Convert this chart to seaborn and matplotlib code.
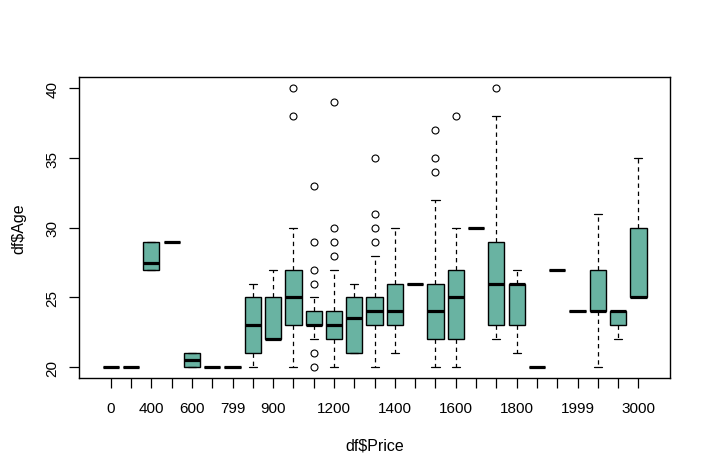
import pandas as pd
import matplotlib.pyplot as plt
import seaborn as sns

sns.set_style("white")
plt.rcParams['font.family'] = ['Liberation Sans', 'DejaVu Sans']

# price groups, in the order they appear on the x axis
prices = [0, 200, 400, 500, 600, 700, 799, 800, 900, 999, 1000, 1200, 1299, 1300,
          1400, 1499, 1500, 1600, 1699, 1700, 1800, 1899, 1900, 1999, 2000, 2500, 3000]

# ages observed in each price group
ages = [
    [20],
    [20],
    [27, 27, 27, 27, 28, 29, 29, 29],
    [29],
    [20, 20, 20, 20, 21, 21, 21, 21],
    [20],
    [20],
    [20, 21, 21, 22, 23, 24, 25, 25, 26],
    [22, 22, 22, 22, 22, 23, 25, 26, 27],
    [20, 22, 23, 23, 24, 25, 25, 26, 27, 27, 30, 38, 40],
    [20, 21, 22, 23, 23, 23, 23, 23, 23, 23, 23, 24, 24, 24, 24, 24, 25, 26, 27, 29, 33],
    [20, 21, 22, 22, 22, 22, 23, 23, 23, 23, 23, 24, 24, 24, 24, 24, 27, 28, 29, 30, 39],
    [21, 21, 21, 23, 24, 25, 25, 26],
    [20, 21, 22, 22, 23, 23, 23, 24, 24, 24, 24, 24, 25, 25, 25, 25, 28, 29, 30, 31, 35],
    [21, 22, 23, 23, 24, 25, 26, 28, 30],
    [26],
    [20, 21, 22, 22, 22, 23, 24, 24, 24, 25, 25, 26, 26, 32, 34, 35, 37],
    [20, 21, 22, 24, 25, 26, 27, 30, 38],
    [30],
    [22, 23, 23, 25, 26, 27, 29, 38, 40],
    [21, 22, 23, 25, 26, 26, 26, 27, 27],
    [20],
    [27],
    [24],
    [20, 22, 24, 24, 24, 25, 27, 29, 31],
    [22, 23, 23, 23, 24, 24, 24, 24, 24],
    [25, 25, 25, 25, 25, 28, 30, 33, 35],
]

# R only prints the labels that do not overlap
tick_labels = ['0', '', '400', '', '600', '', '799', '', '900', '', '', '1200', '', '',
               '1400', '', '', '1600', '', '', '1800', '', '', '1999', '', '', '3000']

df = pd.DataFrame({
    'Price': [str(p) for p, grp in zip(prices, ages) for _ in grp],
    'Age': [a for grp in ages for a in grp],
})

fig = plt.figure(figsize=(7.11, 4.77), dpi=100)
ax = fig.add_axes([0.1107, 0.2048, 0.8323, 0.631])

sns.boxplot(
    data=df, x='Price', y='Age', order=[str(p) for p in prices],
    color='#69b3a2', saturation=1, linecolor='black', linewidth=1,
    width=0.8, ax=ax,
    whiskerprops=dict(linestyle=(0, (3.5, 3)), linewidth=0.9),
    capprops=dict(linewidth=0.9),
    medianprops=dict(linewidth=2.3, color='black'),
    flierprops=dict(marker='o', markerfacecolor='none', markeredgecolor='black',
                    markersize=5, markeredgewidth=0.8),
)

ax.set_xlim(-1.58, 27.58)
ax.set_ylim(19.2, 40.8)
ax.set_yticks([20, 25, 30, 35, 40])
ax.set_xticks(range(len(prices)))
ax.set_xticklabels(tick_labels)

for side in ['left', 'right', 'top', 'bottom']:
    ax.spines[side].set_visible(True)
    ax.spines[side].set_color('black')
    ax.spines[side].set_linewidth(1)

ax.tick_params(axis='both', direction='out', length=7, width=0.9, color='black',
               labelsize=11, labelcolor='black', bottom=True, left=True)
ax.tick_params(axis='x', pad=9)
ax.tick_params(axis='y', pad=7)
for lab in ax.get_yticklabels():
    lab.set_rotation(90)
    lab.set_va('center')

ax.set_xlabel('df$Price', fontsize=11.5, color='black')
ax.set_ylabel('df$Age', fontsize=11.5, color='black')
ax.xaxis.set_label_coords(0.5, -0.198)
ax.yaxis.set_label_coords(-0.089, 0.5)

fig.savefig('out.png', dpi=100)
